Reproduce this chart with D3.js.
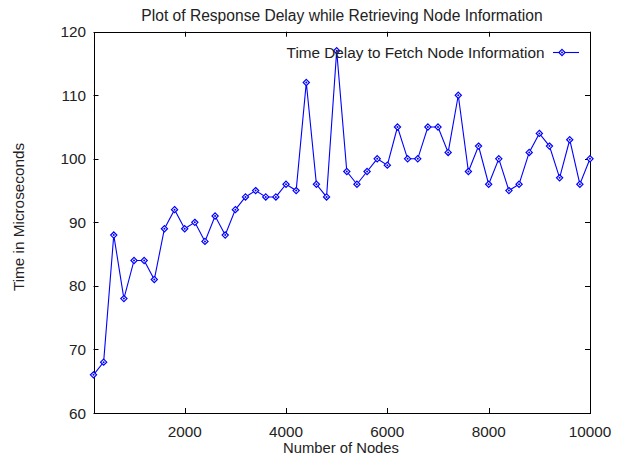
<!DOCTYPE html>
<html>
<head>
<meta charset="utf-8">
<script src="https://cdn.jsdelivr.net/npm/d3@7"></script>
<style>
html, body { margin: 0; padding: 0; background: #fff; }
svg text { font-family: "Liberation Sans", Arial, sans-serif; fill: #222; }
</style>
</head>
<body>
<script>
const nodes = [200,400,600,800,1000,1200,1400,1600,1800,2000,2200,2400,2600,2800,3000,3200,3400,3600,3800,4000,4200,4400,4600,4800,5000,5200,5400,5600,5800,6000,6200,6400,6600,6800,7000,7200,7400,7600,7800,8000,8200,8400,8600,8800,9000,9200,9400,9600,9800,10000];
const delays = [66,68,88,78,84,84,81,89,92,89,90,87,91,88,92,94,95,94,94,96,95,112,96,94,117,98,96,98,100,99,105,100,100,105,105,101,110,98,102,96,100,95,96,101,104,102,97,103,96,100];
const xTicks = [2000,4000,6000,8000,10000];
const yTicks = [60,70,80,90,100,110,120];
const title = "Plot of Response Delay while Retrieving Node Information";
const xLabel = "Number of Nodes";
const yLabel = "Time in Microseconds";
const seriesName = "Time Delay to Fetch Node Information";

const W = 619, H = 457;
const L = 93.5, R = 590, T = 31.7, B = 413;
const FS = 15.3;
const svg = d3.select("body").append("svg").attr("width", W).attr("height", H);

const x = d3.scaleLinear().domain([200, 10000]).range([L, R]);
const y = d3.scaleLinear().domain([60, 120]).range([B, T]);
const color = "#0000ff";
const tickLen = 5;

// ticks (inward, mirrored)
const g = svg.append("g").attr("stroke", "#000").attr("stroke-width", 1);
xTicks.forEach(v => {
  const px = Math.round(x(v)) + 0.5;
  g.append("line").attr("x1", px).attr("x2", px).attr("y1", B).attr("y2", B - tickLen);
  g.append("line").attr("x1", px).attr("x2", px).attr("y1", T).attr("y2", T + tickLen);
});
yTicks.forEach(v => {
  const py = Math.round(y(v)) + 0.5;
  g.append("line").attr("x1", L).attr("x2", L + tickLen).attr("y1", py).attr("y2", py);
  g.append("line").attr("x1", R).attr("x2", R - tickLen).attr("y1", py).attr("y2", py);
});
svg.append("rect").attr("x", Math.round(L) + 0.5).attr("y", Math.round(T) + 0.5)
  .attr("width", Math.round(R) - Math.round(L)).attr("height", Math.round(B) - Math.round(T))
  .attr("fill", "none").attr("stroke", "#000").attr("stroke-width", 1);

// tick labels
xTicks.forEach(v => {
  svg.append("text").attr("x", x(v)).attr("y", 436.5).attr("text-anchor", "middle")
    .attr("font-size", FS).text(v);
});
yTicks.forEach(v => {
  svg.append("text").attr("x", 86).attr("y", y(v) + 5.5).attr("text-anchor", "end")
    .attr("font-size", FS).text(v);
});

// titles
svg.append("text").attr("x", 342).attr("y", 20.5).attr("text-anchor", "middle")
  .attr("font-size", 15.6).text(title);
svg.append("text").attr("x", 341).attr("y", 453.3).attr("text-anchor", "middle")
  .attr("font-size", 14.8).text(xLabel);
svg.append("text").attr("transform", `translate(23.5,217) rotate(-90)`)
  .attr("text-anchor", "middle").attr("font-size", FS).text(yLabel);

// series
const data = nodes.map((n, i) => ({ n, v: delays[i] }));
const line = d3.line().x(d => x(d.n)).y(d => y(d.v));
svg.append("path").datum(data).attr("d", line).attr("fill", "none")
  .attr("stroke", color).attr("stroke-width", 1.1);

function marker(sel, cx, cy) {
  const r = 3.1;
  sel.append("path")
    .attr("d", `M${cx},${cy - r}L${cx + r},${cy}L${cx},${cy + r}L${cx - r},${cy}Z`)
    .attr("fill", "#fff").attr("stroke", color).attr("stroke-width", 1.2);
  sel.append("circle").attr("cx", cx).attr("cy", cy).attr("r", 1.0).attr("fill", color);
}
const mg = svg.append("g");
data.forEach(d => marker(mg, x(d.n), y(d.v)));

// legend
const ly = 52.5;
svg.append("text").attr("x", 544.5).attr("y", ly + 5.3).attr("text-anchor", "end")
  .attr("font-size", FS).text(seriesName);
svg.append("line").attr("x1", 553).attr("x2", 579).attr("y1", ly).attr("y2", ly)
  .attr("stroke", color).attr("stroke-width", 1.1);
marker(svg, 562, ly);
</script>
</body>
</html>
